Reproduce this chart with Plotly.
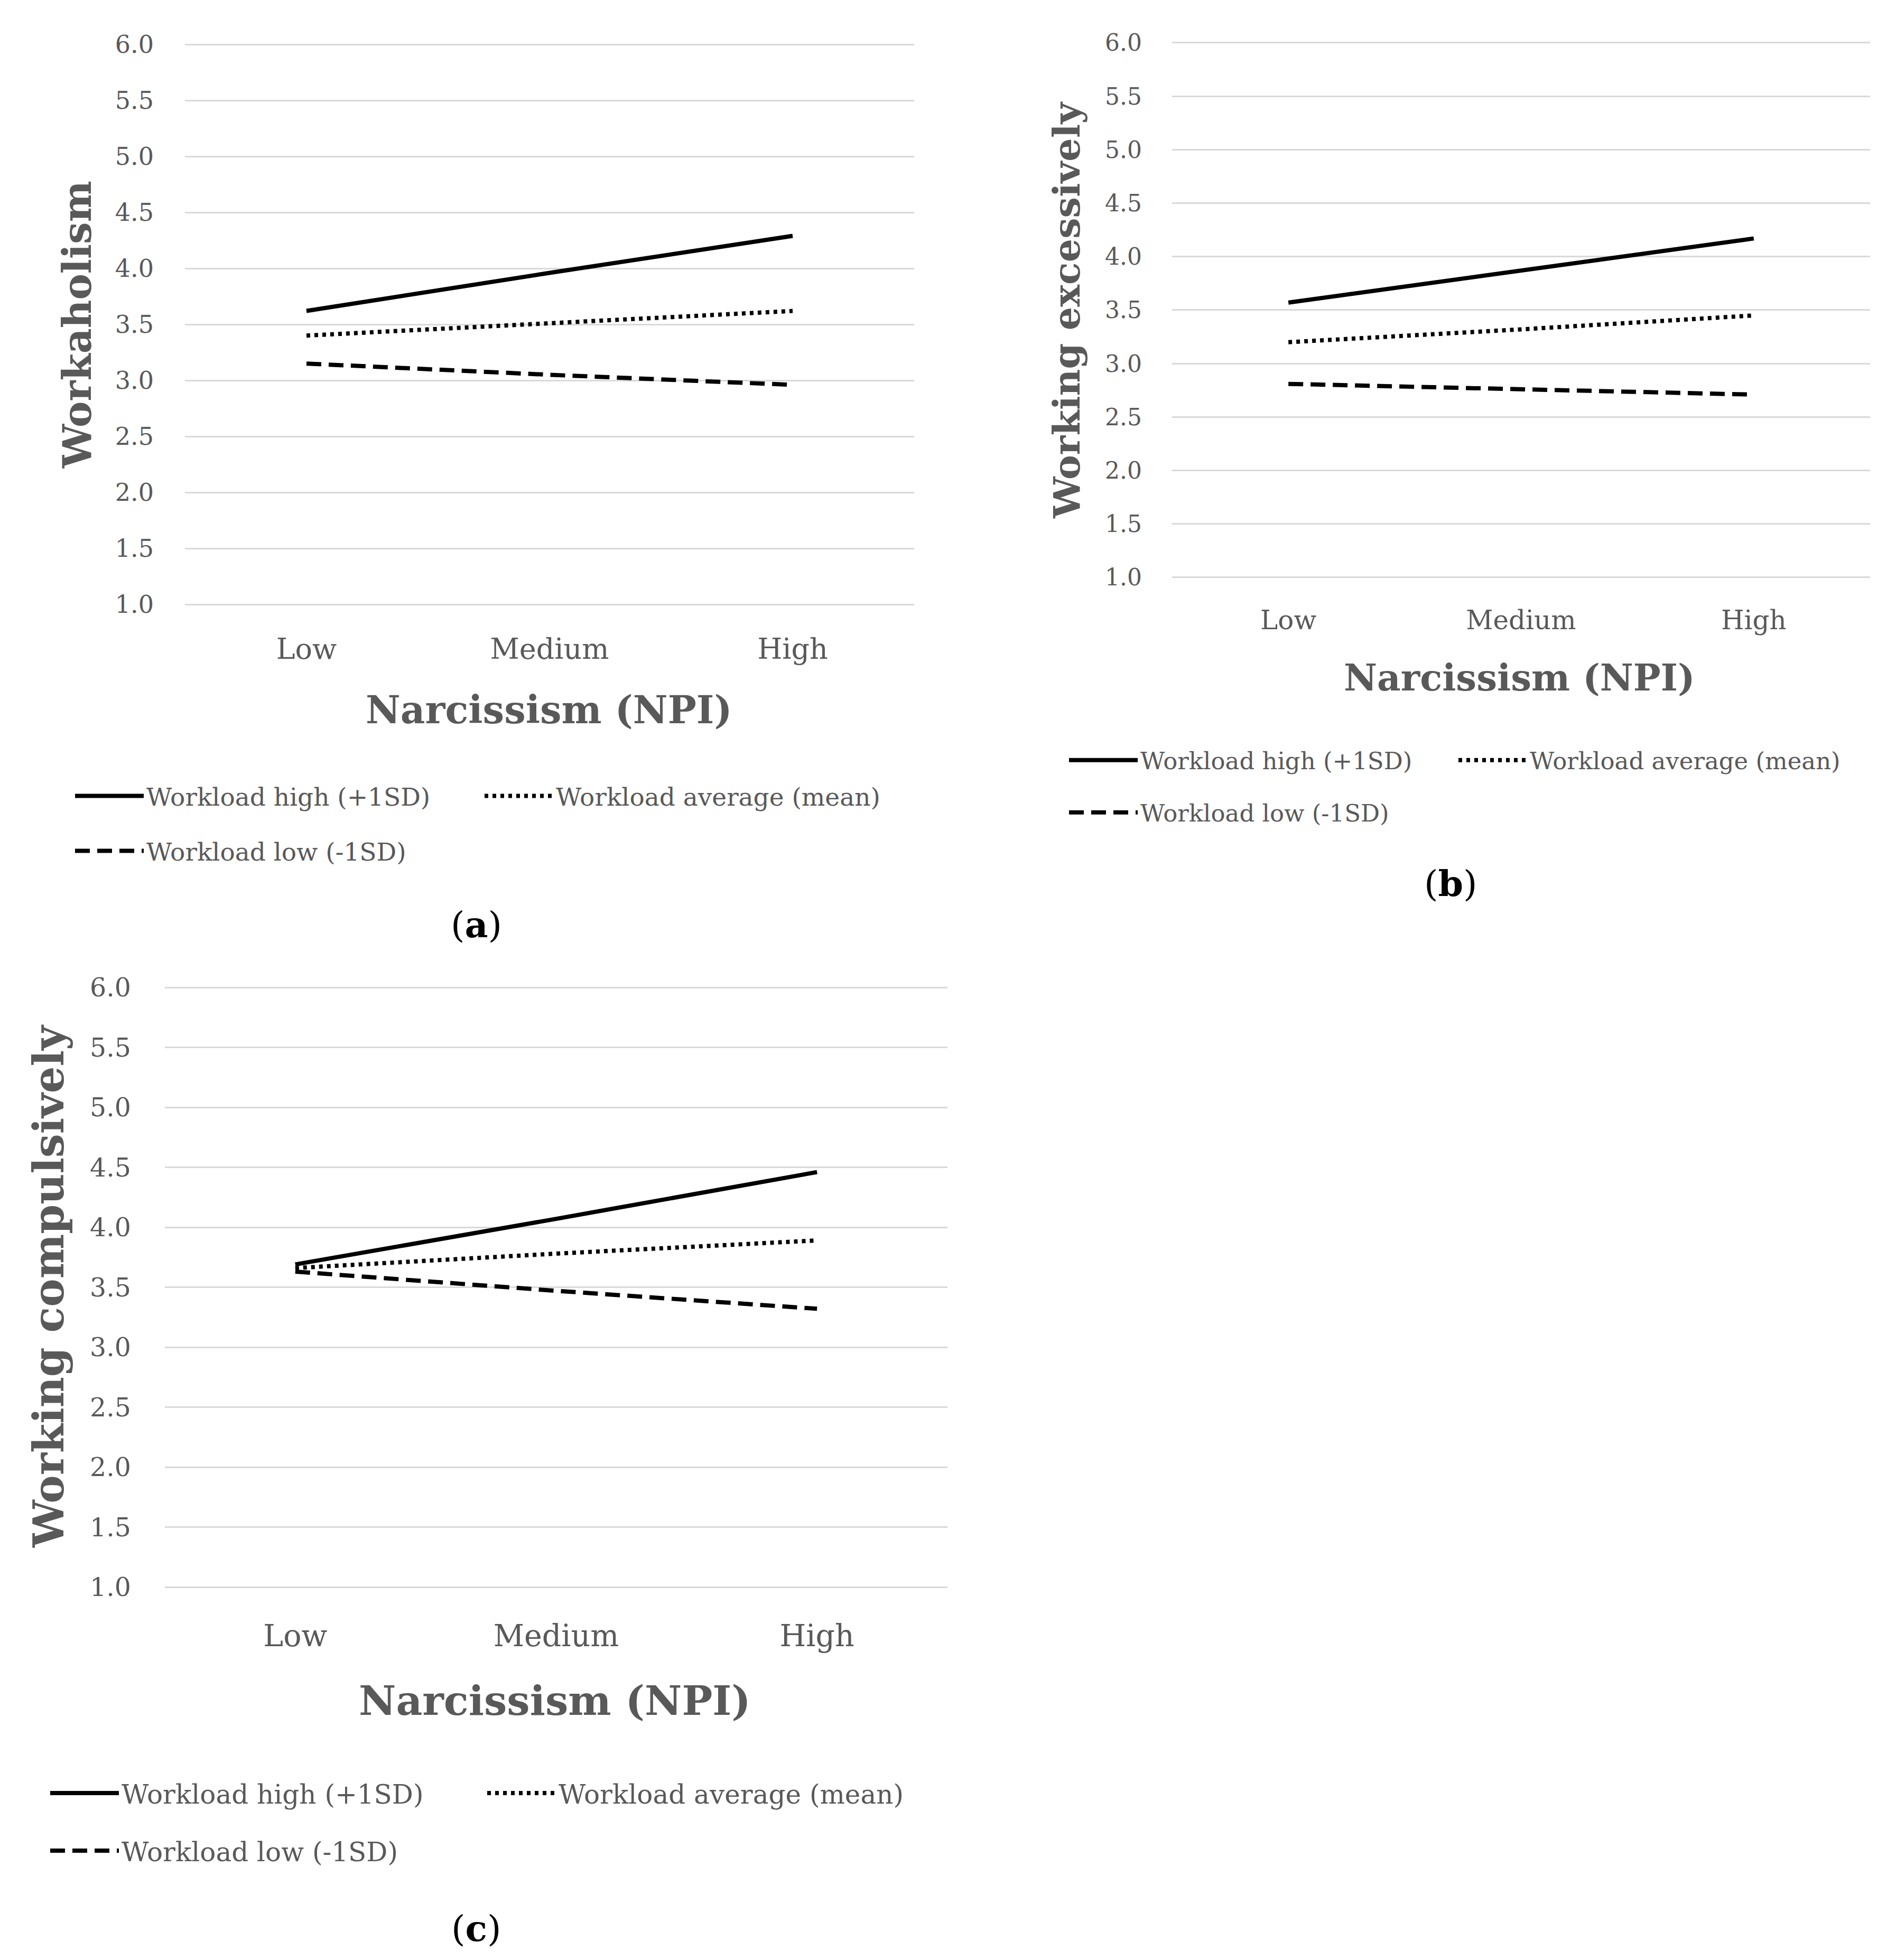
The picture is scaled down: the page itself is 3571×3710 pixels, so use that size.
import plotly.graph_objects as go

# ---------------- data ----------------
categories = ["Low", "Medium", "High"]
y_ticks = [1.0, 1.5, 2.0, 2.5, 3.0, 3.5, 4.0, 4.5, 5.0, 5.5, 6.0]

series_names = ["Workload high (+1SD)", "Workload average (mean)", "Workload low (-1SD)"]

# (a) Workaholism
a_high = [3.62, 3.96, 4.29]
a_avg = [3.40, 3.51, 3.62]
a_low = [3.15, 3.05, 2.96]

# (b) Working excessively
b_high = [3.57, 3.87, 4.17]
b_avg = [3.20, 3.32, 3.45]
b_low = [2.81, 2.76, 2.71]

# (c) Working compulsively
c_high = [3.69, 4.07, 4.46]
c_avg = [3.66, 3.78, 3.89]
c_low = [3.63, 3.47, 3.32]

panel_titles_y = ["Workaholism", "Working excessively", "Working compulsively"]
x_title = "Narcissism (NPI)"
captions = ["a", "b", "c"]

# ---------------- layout constants (page pixels) ----------------
W, H = 3571, 3710
OFF = 8  # page offset of the figure
FONT = "DejaVu Serif"
GRAY = "#595959"
GRID = "#D9D9D9"
Y_MIN, Y_MAX, PAD = 1.0, 6.0, 0.01


def px_x(v):
    return (v - OFF) / W


def px_y(v):
    return 1 - (v - OFF) / H


# plot rectangles: (x0, x1, y at 6.0, y at 1.0)
rects = [(350, 1730, 84, 1144), (2218, 3539, 81, 1093), (312, 1793, 1869, 3004)]
tick_sz = [46, 44, 49]
cat_sz = [54, 50, 57]
ytitle_sz = [74, 70, 80]
xtitle_sz = [72, 69, 77]
leg_sz = [47, 45, 50]
cap_sz = 68
ytick_stand = [58, 56, 63]
xtick_stand = [44, 43, 50]
ytitle_pos = [(146, 615), (2018, 587), (92, 2435)]
xtitle_pos = [(1039, 1343), (2875, 1283), (1050, 3219)]
cap_pos = [(901, 1750), (2745, 1672), (901, 3650)]
leg_row1 = [(137, 1507), (2018, 1439), (90, 3394)]
leg_row2 = [(137, 1611), (2018, 1538), (90, 3503)]
entry_w = [630, 592, 682]

dashes = ["solid", "7px,8px", "28px,14px"]
data_sets = [(a_high, a_avg, a_low), (b_high, b_avg, b_low), (c_high, c_avg, c_low)]


def legend_ids(p):
    r1 = "legend" if p == 0 else "legend" + str(2 * p + 1)
    r2 = "legend" + str(2 * p + 2)
    return r1, r2


fig = go.Figure()
for p, dsets in enumerate(data_sets):
    sfx = "" if p == 0 else str(p + 1)
    r1, r2 = legend_ids(p)
    for s, (vals, name, dash) in enumerate(zip(dsets, series_names, dashes)):
        fig.add_trace(go.Scatter(
            x=categories, y=vals, mode="lines", name=name,
            line=dict(color="black", width=8, dash=dash),
            xaxis="x" + sfx, yaxis="y" + sfx,
            legend=r1 if s < 2 else r2, showlegend=True,
        ))

layout = dict(
    width=W, height=H,
    margin=dict(l=0, r=0, t=0, b=0, pad=0, autoexpand=False),
    paper_bgcolor="white", plot_bgcolor="white",
    font=dict(family=FONT, color=GRAY),
    annotations=[],
)

for p, rect in enumerate(rects):
    sfx = "" if p == 0 else str(p + 1)
    x0, x1, yt, yb = rect
    ppu = (yb - yt) / (Y_MAX - Y_MIN)
    layout["xaxis" + sfx] = dict(
        domain=[px_x(x0), px_x(x1)], anchor="y" + sfx,
        type="category", categoryorder="array", categoryarray=categories,
        range=[-0.5, 2.5], showgrid=False, showline=False, zeroline=False,
        ticks="", ticklabelstandoff=int(round(xtick_stand[p] + PAD * ppu)),
        tickfont=dict(family=FONT, size=cat_sz[p], color=GRAY),
        fixedrange=True,
    )
    layout["yaxis" + sfx] = dict(
        domain=[px_y(yb + PAD * ppu), px_y(yt - PAD * ppu)], anchor="x" + sfx,
        range=[Y_MIN - PAD, Y_MAX + PAD], tickvals=y_ticks, tickformat=".1f",
        showgrid=True, gridcolor=GRID, gridwidth=3,
        showline=False, zeroline=False, ticks="",
        ticklabelstandoff=ytick_stand[p],
        tickfont=dict(family=FONT, size=tick_sz[p], color=GRAY),
        fixedrange=True,
    )
    tx, ty = ytitle_pos[p]
    layout["annotations"].append(dict(
        x=px_x(tx), y=px_y(ty), xref="paper", yref="paper",
        text="<b>" + panel_titles_y[p] + "</b>", textangle=-90, showarrow=False,
        font=dict(family=FONT, size=ytitle_sz[p], color=GRAY),
        xanchor="center", yanchor="middle",
    ))
    tx, ty = xtitle_pos[p]
    layout["annotations"].append(dict(
        x=px_x(tx), y=px_y(ty), xref="paper", yref="paper",
        text="<b>" + x_title + "</b>", showarrow=False,
        font=dict(family=FONT, size=xtitle_sz[p], color=GRAY),
        xanchor="center", yanchor="middle",
    ))
    cx, cy = cap_pos[p]
    layout["annotations"].append(dict(
        x=px_x(cx), y=px_y(cy), xref="paper", yref="paper",
        text="(<b>" + captions[p] + "</b>)", showarrow=False,
        font=dict(family=FONT, size=cap_sz, color="black"),
        xanchor="center", yanchor="middle",
    ))
    r1, r2 = legend_ids(p)
    for rid, (lx, ly), ew in ((r1, leg_row1[p], entry_w[p]), (r2, leg_row2[p], None)):
        leg = dict(
            x=px_x(lx), y=px_y(ly), xanchor="left", yanchor="middle",
            orientation="h", itemwidth=130,
            bgcolor="rgba(0,0,0,0)", borderwidth=0,
            font=dict(family=FONT, size=leg_sz[p], color=GRAY),
            itemclick=False, itemdoubleclick=False,
        )
        if ew:
            leg["entrywidth"] = ew
        layout[rid] = leg

fig.update_layout(**layout)
fig.write_html("out.html", config={"displayModeBar": False})
